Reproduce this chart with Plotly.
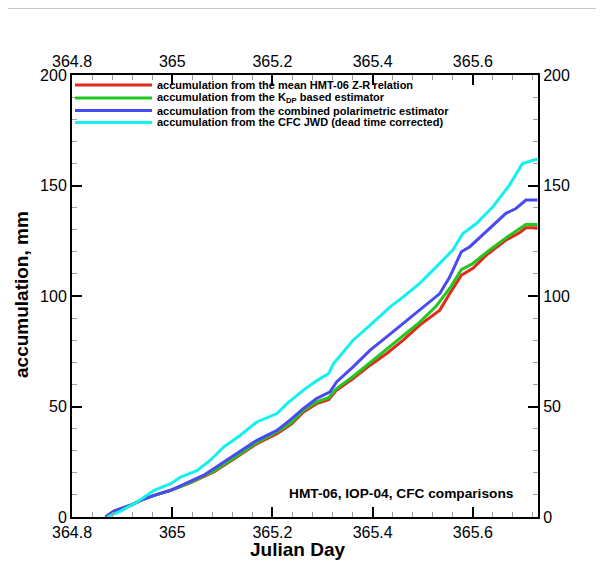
import plotly.graph_objects as go

# ---- data ----
day_zr = [364.867, 364.884, 364.917, 364.937, 364.964, 364.997, 365.036, 365.083, 365.129, 365.169,
          365.209, 365.239, 365.262, 365.288, 365.312, 365.328, 365.361, 365.395, 365.428, 365.461,
          365.494, 365.534, 365.554, 365.577, 365.600, 365.627, 365.666, 365.693, 365.706, 365.729]
acc_zr = [0.0, 2.7, 5.3, 7.5, 9.8, 12.1, 15.4, 20.4, 27.2, 33.2,
          37.7, 42.3, 47.5, 51.3, 53.1, 57.4, 62.6, 68.7, 74.0, 80.0,
          86.8, 93.6, 101.1, 109.4, 112.5, 118.5, 125.3, 128.6, 130.9, 130.9]

day_kdp = [364.867, 364.884, 364.917, 364.937, 364.964, 364.997, 365.036, 365.083, 365.129, 365.169,
           365.209, 365.239, 365.262, 365.288, 365.312, 365.328, 365.361, 365.395, 365.428, 365.461,
           365.494, 365.527, 365.554, 365.577, 365.600, 365.627, 365.666, 365.693, 365.706, 365.729]
acc_kdp = [0.0, 2.7, 5.3, 7.5, 9.8, 12.1, 15.6, 20.8, 27.6, 33.7,
           38.5, 43.0, 48.3, 52.0, 54.0, 58.1, 63.6, 69.9, 75.6, 81.9,
           88.2, 95.5, 103.5, 111.9, 114.7, 119.7, 126.3, 130.4, 132.4, 132.4]

day_pol = [364.867, 364.884, 364.917, 364.937, 364.964, 364.997, 365.063, 365.129, 365.169, 365.209,
           365.235, 365.262, 365.288, 365.315, 365.328, 365.361, 365.395, 365.428, 365.461, 365.501,
           365.534, 365.554, 365.577, 365.594, 365.627, 365.666, 365.686, 365.706, 365.729]
acc_pol = [0.0, 2.7, 5.3, 7.5, 9.8, 12.1, 18.9, 28.7, 34.7, 39.2,
           43.8, 49.1, 53.6, 56.6, 61.1, 67.9, 75.5, 81.5, 87.5, 95.1,
           101.1, 108.7, 120.0, 122.3, 129.1, 137.4, 139.6, 143.4, 143.4]

day_jwd = [364.870, 364.897, 364.930, 364.964, 364.997, 365.017, 365.050, 365.076, 365.103, 365.136,
           365.169, 365.209, 365.229, 365.262, 365.288, 365.312, 365.322, 365.361, 365.395, 365.435,
           365.461, 365.494, 365.527, 365.560, 365.580, 365.607, 365.640, 365.673, 365.699, 365.729]
acc_jwd = [0.0, 2.7, 6.8, 12.1, 15.1, 18.1, 21.1, 25.7, 31.7, 37.0,
           43.0, 46.8, 51.3, 57.4, 61.6, 64.9, 69.4, 80.0, 86.8, 95.1,
           99.6, 105.7, 113.2, 120.8, 128.3, 132.8, 140.4, 150.2, 159.9, 162.0]

series_names = [
    "accumulation from the mean HMT-06 Z-R relation",
    "accumulation from the K<sub>DP</sub> based estimator",
    "accumulation from the combined polarimetric estimator",
    "accumulation from the CFC JWD (dead time corrected)",
]
colors = ["#e4291c", "#1fc81f", "#4a4af2", "#14f0f0"]

x_ticks = [364.8, 365.0, 365.2, 365.4, 365.6]
x_tick_labels = ["364.8", "365", "365.2", "365.4", "365.6"]
y_ticks = [0, 50, 100, 150, 200]
x_range = [364.8, 365.73]
y_range = [0, 200]

FONT = "Liberation Sans, Arial, sans-serif"

fig = go.Figure()
for xs, ys, name, c in zip([day_zr, day_kdp, day_pol, day_jwd],
                           [acc_zr, acc_kdp, acc_pol, acc_jwd], series_names, colors):
    fig.add_trace(go.Scatter(x=xs, y=ys, mode="lines", name=name,
                             line=dict(color=c, width=3), showlegend=False))

# invisible trace to make the mirrored axes (top / right) render
fig.add_trace(go.Scatter(x=[x_range[0]], y=[y_range[0]], xaxis="x2", yaxis="y2",
                         mode="lines", line=dict(width=0), showlegend=False,
                         hoverinfo="skip"))

axis_common = dict(
    showgrid=False, zeroline=False, showline=True, linecolor="black", linewidth=2,
    ticks="inside", ticklen=10, tickwidth=2, tickcolor="black",
    tickfont=dict(family=FONT, size=16, color="black"),
)
minor_x = dict(dtick=0.04, tick0=364.8, ticklen=5, tickcolor="#a0a0a0", tickwidth=1, ticks="inside")
minor_y = dict(dtick=10, tick0=0, ticklen=5, tickcolor="#a0a0a0", tickwidth=1, ticks="inside")

# page offset (browser body margin) of 8 px
OFF = 8
L, R, T, B = 72 - OFF, 538 - OFF, 75 - OFF, 517 - OFF
W, H = R - L, B - T

fig.update_layout(
    width=604, height=573,
    margin=dict(l=L, r=604 - R, t=T, b=573 - B),
    paper_bgcolor="white", plot_bgcolor="white",
    xaxis=dict(range=x_range, tickvals=x_ticks, ticktext=x_tick_labels, minor=minor_x,
               **axis_common),
    yaxis=dict(range=y_range, tickvals=y_ticks, minor=minor_y, **axis_common),
    xaxis2=dict(range=x_range, tickvals=x_ticks, ticktext=x_tick_labels, overlaying="x",
                side="top", anchor="y", minor=minor_x, **axis_common),
    yaxis2=dict(range=y_range, tickvals=y_ticks, overlaying="y", side="right", anchor="x",
                minor=minor_y, **axis_common),
    showlegend=False,
)

# convert page pixel coords (reference) to paper coords
px = lambda x: (x - OFF - L) / W
py = lambda y: (B - (y - OFF)) / H

shapes = []
annotations = []
# manual legend
leg_y = [85, 98, 110.5, 122.5]
for yy, name, c in zip(leg_y, series_names, colors):
    shapes.append(dict(type="line", xref="paper", yref="paper", x0=px(75), x1=px(152),
                       y0=py(yy), y1=py(yy), line=dict(color=c, width=3)))
    annotations.append(dict(xref="paper", yref="paper", x=px(155), y=py(yy), xanchor="left",
                            yanchor="middle", showarrow=False, text="<b>" + name + "</b>",
                            font=dict(family=FONT, size=11, color="black")))

# thin gray line across top of page
shapes.append(dict(type="line", xref="paper", yref="paper", x0=px(0), x1=px(620),
                   y0=py(8.5), y1=py(8.5), line=dict(color="#c8c8c8", width=1)))

annotations += [
    dict(xref="paper", yref="paper", x=px(516), y=py(493), xanchor="right", yanchor="middle",
         showarrow=False, text="<b>HMT-06, IOP-04, CFC comparisons</b>",
         font=dict(family=FONT, size=13.7, color="black")),
    dict(xref="paper", yref="paper", x=px(297), y=py(549), xanchor="center", yanchor="middle",
         showarrow=False, text="<b>Julian Day</b>", font=dict(family=FONT, size=19, color="black")),
    dict(xref="paper", yref="paper", x=px(21), y=py(295), xanchor="center", yanchor="middle",
         showarrow=False, textangle=-90, text="<b>accumulation, mm</b>",
         font=dict(family=FONT, size=19, color="black")),
]
fig.update_layout(shapes=shapes, annotations=annotations)

fig.write_html("out.html")
